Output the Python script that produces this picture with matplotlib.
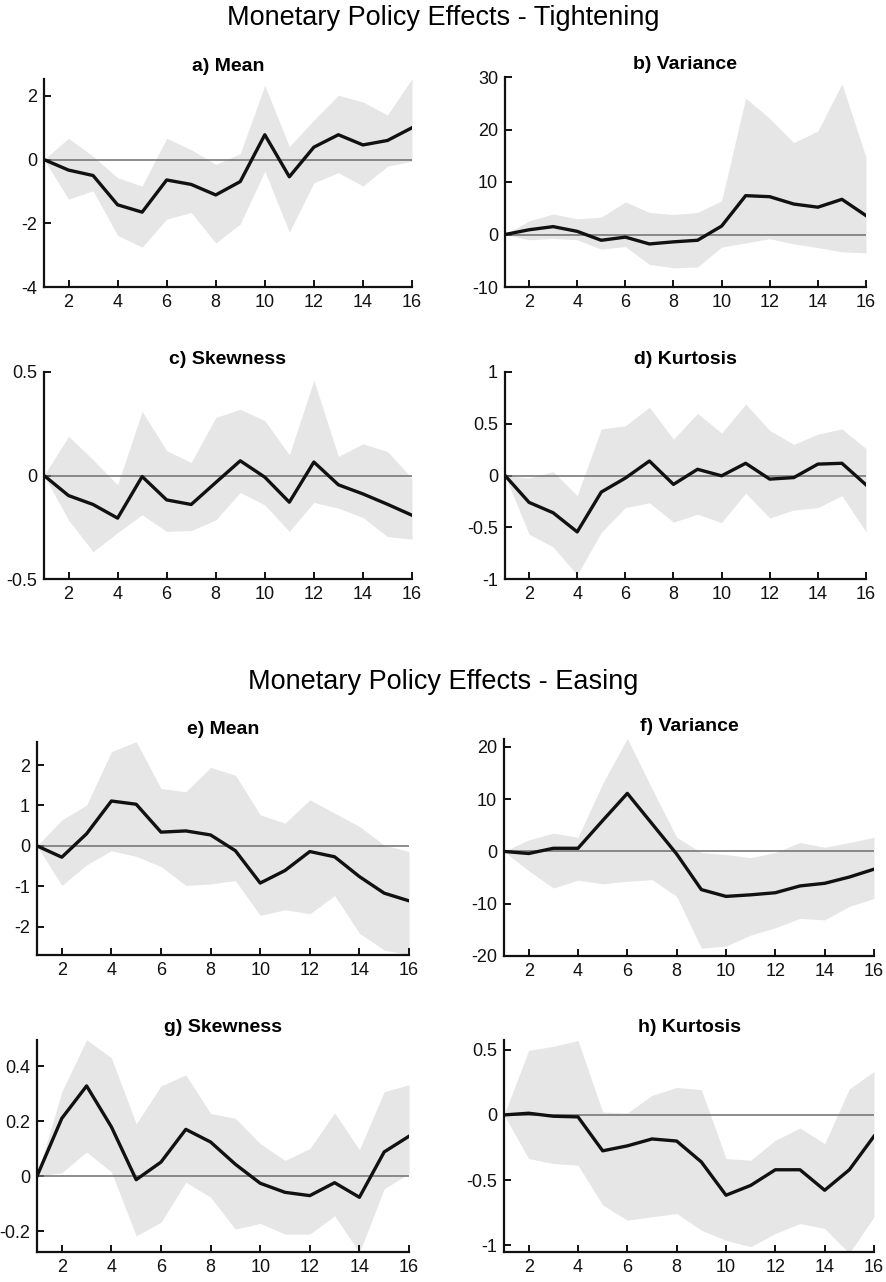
import matplotlib
matplotlib.use("Agg")
import matplotlib.pyplot as plt
from matplotlib.ticker import FuncFormatter
import numpy as np

plt.rcParams["font.family"] = ["Liberation Sans", "DejaVu Sans"]
plt.rcParams["axes.unicode_minus"] = False

horizon = np.arange(1, 17)

# Tightening
mean_t = [0, -0.33, -0.5, -1.42, -1.65, -0.64, -0.78, -1.11, -0.69, 0.78, -0.54, 0.39, 0.78, 0.46, 0.6, 1.0]
mean_t_hi = [0, 0.67, 0.1, -0.57, -0.83, 0.67, 0.31, -0.15, 0.19, 2.33, 0.41, 1.24, 2.02, 1.81, 1.4, 2.54]
mean_t_lo = [0, -1.24, -0.98, -2.38, -2.75, -1.87, -1.66, -2.62, -2.02, -0.36, -2.28, -0.73, -0.41, -0.83, -0.21, -0.05]

var_t = [0, 0.9, 1.5, 0.6, -1.1, -0.5, -1.8, -1.4, -1.1, 1.6, 7.4, 7.2, 5.8, 5.2, 6.7, 3.6]
var_t_hi = [0, 2.6, 3.9, 3.0, 3.3, 6.2, 4.2, 3.8, 4.2, 6.4, 26.0, 22.1, 17.5, 19.7, 28.7, 14.7]
var_t_lo = [0, -1.0, -0.75, -1.0, -2.8, -2.3, -5.7, -6.35, -6.2, -2.4, -1.6, -0.8, -1.8, -2.5, -3.3, -3.5]

skew_t = [0, -0.097, -0.14, -0.206, -0.005, -0.118, -0.14, -0.034, 0.071, -0.008, -0.129, 0.065, -0.045, -0.089, -0.139, -0.192]
skew_t_hi = [0, 0.19, 0.076, -0.045, 0.31, 0.12, 0.063, 0.28, 0.32, 0.265, 0.1, 0.46, 0.092, 0.153, 0.116, -0.013]
skew_t_lo = [0, -0.215, -0.368, -0.276, -0.19, -0.27, -0.266, -0.215, -0.082, -0.142, -0.27, -0.13, -0.158, -0.203, -0.295, -0.308]

kurt_t = [0, -0.26, -0.36, -0.545, -0.16, -0.025, 0.14, -0.086, 0.06, -0.003, 0.118, -0.035, -0.02, 0.11, 0.118, -0.09]
kurt_t_hi = [0, -0.025, 0.038, -0.195, 0.45, 0.48, 0.66, 0.35, 0.6, 0.41, 0.69, 0.436, 0.3, 0.4, 0.45, 0.26]
kurt_t_lo = [0, -0.567, -0.69, -0.96, -0.55, -0.31, -0.264, -0.45, -0.375, -0.455, -0.17, -0.41, -0.334, -0.31, -0.195, -0.545]

# Easing
mean_e = [0, -0.28, 0.3, 1.11, 1.03, 0.34, 0.37, 0.27, -0.12, -0.92, -0.61, -0.14, -0.27, -0.76, -1.17, -1.36]
mean_e_hi = [0, 0.64, 1.01, 2.33, 2.58, 1.42, 1.34, 1.94, 1.75, 0.77, 0.56, 1.14, 0.81, 0.48, 0.02, -0.14]
mean_e_lo = [0, -0.98, -0.47, -0.12, -0.26, -0.51, -0.98, -0.94, -0.86, -1.72, -1.58, -1.68, -1.23, -2.16, -2.58, -2.69]

var_e = [0, -0.4, 0.6, 0.6, 5.9, 11.1, 5.3, -0.5, -7.3, -8.6, -8.3, -7.9, -6.6, -6.1, -4.9, -3.4]
var_e_hi = [0, 2.2, 3.5, 2.7, 13.0, 21.6, 12.0, 2.7, -0.2, -0.6, -1.2, -0.2, 1.7, 0.8, 1.7, 2.7]
var_e_lo = [0, -3.7, -7.0, -5.5, -6.2, -5.7, -5.4, -8.6, -18.5, -18.1, -16.0, -14.6, -12.8, -13.1, -10.5, -9.0]

skew_e = [0, 0.21, 0.328, 0.179, -0.013, 0.051, 0.17, 0.124, 0.043, -0.026, -0.059, -0.071, -0.024, -0.077, 0.088, 0.145]
skew_e_hi = [0, 0.307, 0.496, 0.43, 0.19, 0.328, 0.368, 0.228, 0.21, 0.118, 0.057, 0.1, 0.23, 0.096, 0.307, 0.332]
skew_e_lo = [0, 0.012, 0.088, 0.015, -0.217, -0.168, -0.022, -0.077, -0.193, -0.172, -0.211, -0.211, -0.144, -0.278, -0.046, 0.009]

kurt_e = [0, 0.013, -0.01, -0.015, -0.275, -0.237, -0.184, -0.2, -0.36, -0.615, -0.54, -0.42, -0.42, -0.577, -0.42, -0.163]
kurt_e_hi = [0, 0.495, 0.525, 0.57, 0.023, 0.015, 0.15, 0.21, 0.194, -0.334, -0.347, -0.194, -0.1, -0.22, 0.2, 0.334]
kurt_e_lo = [0, -0.334, -0.372, -0.385, -0.69, -0.806, -0.78, -0.755, -0.883, -0.96, -1.01, -0.908, -0.832, -0.87, -1.06, -0.78]

W, H = 886, 1282

# (title, line, hi, lo, ylim, yticks, [left, right, top, bottom] in px)
PANELS = [
    ("a) Mean", mean_t, mean_t_hi, mean_t_lo, (-4, 2.53), [-4, -2, 0, 2], [44, 412, 79, 287]),
    ("b) Variance", var_t, var_t_hi, var_t_lo, (-10, 30), [-10, 0, 10, 20, 30], [505, 866, 77, 287]),
    ("c) Skewness", skew_t, skew_t_hi, skew_t_lo, (-0.5, 0.5), [-0.5, 0, 0.5], [44, 412, 372, 579]),
    ("d) Kurtosis", kurt_t, kurt_t_hi, kurt_t_lo, (-1, 1), [-1, -0.5, 0, 0.5, 1], [505, 866, 372, 579]),
    ("e) Mean", mean_e, mean_e_hi, mean_e_lo, (-2.7, 2.57), [-2, -1, 0, 1, 2], [37, 409, 742, 955]),
    ("f) Variance", var_e, var_e_hi, var_e_lo, (-20, 21.5), [-20, -10, 0, 10, 20], [504, 874, 739, 956]),
    ("g) Skewness", skew_e, skew_e_hi, skew_e_lo, (-0.276, 0.495), [-0.2, 0, 0.2, 0.4], [37, 409, 1040, 1252]),
    ("h) Kurtosis", kurt_e, kurt_e_hi, kurt_e_lo, (-1.05, 0.574), [-1, -0.5, 0, 0.5], [504, 874, 1040, 1252]),
]

fig = plt.figure(figsize=(W / 100, H / 100), dpi=100)

for title, line, hi, lo, ylim, yticks, (l, r, t, b) in PANELS:
    ax = fig.add_axes([l / W, 1 - b / H, (r - l) / W, (b - t) / H])
    ax.fill_between(horizon, lo, hi, color="#e6e6e6", linewidth=0)
    ax.axhline(0, color="#6e6e6e", linewidth=1.1)
    ax.plot(horizon, line, color="#111111", linewidth=2.4)
    ax.set_xlim(1, 16)
    ax.set_ylim(*ylim)
    ax.set_xticks([2, 4, 6, 8, 10, 12, 14, 16])
    ax.set_yticks(yticks)
    ax.yaxis.set_major_formatter(FuncFormatter(lambda v, p: f"{v:g}"))
    for s in ["top", "right"]:
        ax.spines[s].set_visible(False)
    for s in ["left", "bottom"]:
        ax.spines[s].set_linewidth(1.6)
        ax.spines[s].set_color("#111111")
    ax.tick_params(direction="in", length=5, width=1.4, labelsize=13, colors="#111111", pad=5)
    ax.set_title(title, fontsize=14, fontweight="bold", pad=6)

fig.text(0.5, 1 - 18 / H, "Monetary Policy Effects - Tightening", ha="center", va="center", fontsize=19.5)
fig.text(0.5, 1 - 682 / H, "Monetary Policy Effects - Easing", ha="center", va="center", fontsize=19.5)

fig.savefig("out.png", dpi=100)
